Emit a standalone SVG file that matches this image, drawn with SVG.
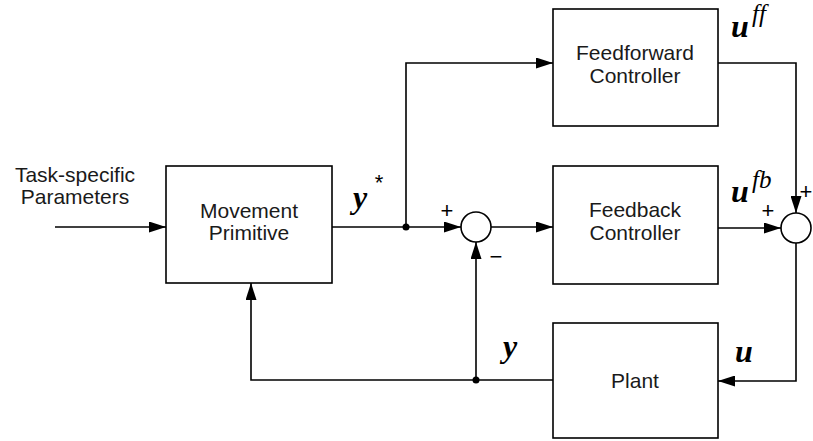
<svg xmlns="http://www.w3.org/2000/svg" width="813" height="441" viewBox="0 0 813 441">
  <style>
    .box { fill: #fff; stroke: #000; stroke-width: 1.6; }
    .wire { fill: none; stroke: #000; stroke-width: 1.6; }
    .lbl { font-family: "Liberation Sans", Arial, sans-serif; font-size: 21px; fill: #1a1a1a; text-anchor: middle; }
    .sign { font-family: "Liberation Sans", Arial, sans-serif; font-size: 22px; fill: #000; text-anchor: middle; }
    .math { font-family: "Liberation Serif", "Times New Roman", serif; font-style: italic; font-weight: bold; font-size: 32px; fill: #000; }
    .sup { font-family: "Liberation Serif", "Times New Roman", serif; font-style: italic; font-size: 25px; fill: #000; }
  </style>
  <defs>
    <marker id="arrow" markerWidth="17" markerHeight="11" refX="17" refY="5.5" orient="auto" markerUnits="userSpaceOnUse">
      <path d="M0,0 L17,5.5 L0,11 Z" fill="#000"/>
    </marker>
  </defs>

  <!-- input label -->
  <g id="input-label">
    <text class="lbl" x="75" y="182">Task-specific</text>
    <text class="lbl" x="75" y="204">Parameters</text>
  </g>

  <g id="movement-primitive">
    <rect class="box" x="166" y="166" width="166" height="117"/>
    <text class="lbl" x="249" y="218">Movement</text>
    <text class="lbl" x="249" y="240">Primitive</text>
  </g>

  <g id="feedforward-controller">
    <rect class="box" x="553" y="9" width="165" height="117"/>
    <text class="lbl" x="635" y="60">Feedforward</text>
    <text class="lbl" x="635" y="83">Controller</text>
  </g>

  <g id="feedback-controller">
    <rect class="box" x="553" y="166" width="165" height="118"/>
    <text class="lbl" x="635" y="217">Feedback</text>
    <text class="lbl" x="635" y="240">Controller</text>
  </g>

  <g id="plant">
    <rect class="box" x="553" y="323" width="165" height="115"/>
    <text class="lbl" x="635" y="388">Plant</text>
  </g>

  <g id="error-sum">
    <circle class="box" cx="476" cy="227" r="15"/>
  </g>

  <g id="control-sum">
    <circle class="box" cx="796" cy="228" r="15"/>
  </g>

  <g id="connectors">
    <!-- parameters into movement primitive -->
    <path class="wire" d="M55,227 H166" marker-end="url(#arrow)"/>
    <!-- desired trajectory to error sum -->
    <path class="wire" d="M332,227 H461" marker-end="url(#arrow)"/>
    <!-- branch to feedforward controller -->
    <path class="wire" d="M406,227 V63 H553" marker-end="url(#arrow)"/>
    <!-- error to feedback controller -->
    <path class="wire" d="M491,227 H553" marker-end="url(#arrow)"/>
    <!-- feedforward command down to control sum -->
    <path class="wire" d="M718,63 H796 V213" marker-end="url(#arrow)"/>
    <!-- feedback command to control sum -->
    <path class="wire" d="M718,228 H781" marker-end="url(#arrow)"/>
    <!-- control sum to plant -->
    <path class="wire" d="M796,243 V381 H718" marker-end="url(#arrow)"/>
    <!-- plant output back to movement primitive -->
    <path class="wire" d="M553,380 H251 V283" marker-end="url(#arrow)"/>
    <!-- measured output to error sum -->
    <path class="wire" d="M476,380 V242" marker-end="url(#arrow)"/>
    <circle cx="406" cy="227" r="3.5" fill="#000"/>
    <circle cx="476" cy="380" r="3.5" fill="#000"/>
  </g>

  <g id="signal-labels">
    <text class="math" x="353" y="208">y</text>
    <text class="sign" x="379" y="190">*</text>
    <text class="sign" x="447" y="218">+</text>
    <text class="sign" x="496" y="264">−</text>
    <text class="math" x="731" y="37">u</text>
    <text class="sup" x="752" y="22">ff</text>
    <text class="math" x="731" y="202">u</text>
    <text class="sup" x="752" y="188">fb</text>
    <text class="sign" x="768" y="218">+</text>
    <text class="sign" x="806" y="199">+</text>
    <text class="math" x="503" y="357">y</text>
    <text class="math" x="735" y="362">u</text>
  </g>
</svg>
